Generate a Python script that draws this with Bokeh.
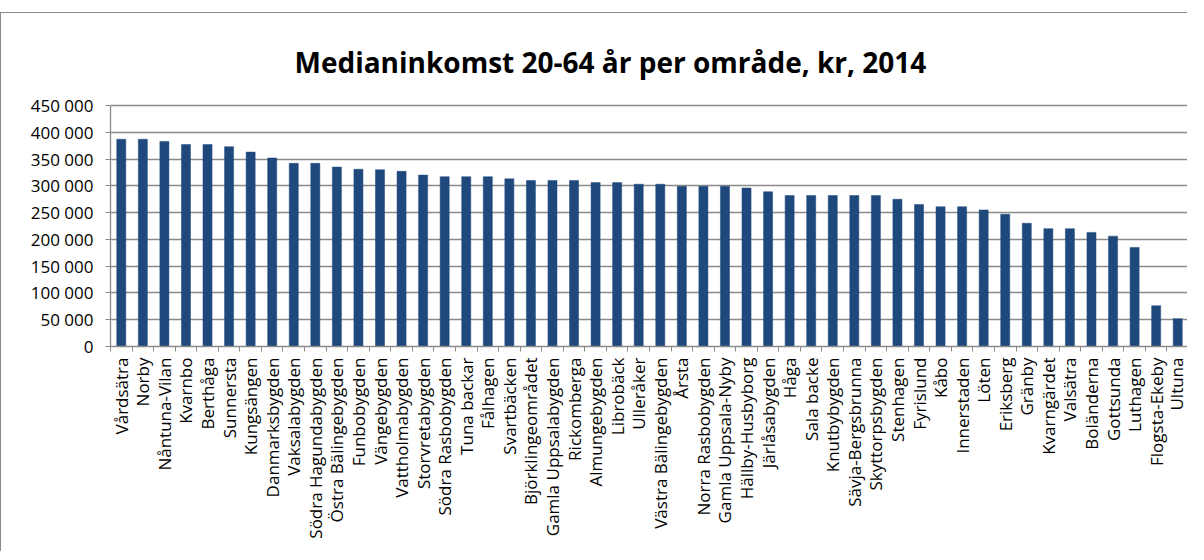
import math
from bokeh.plotting import figure
from bokeh.models import FixedTicker, Range1d, Label
from bokeh.embed import file_html
from bokeh.resources import INLINE

areas = ["Vårdsätra", "Norby", "Nåntuna-Vilan", "Kvarnbo", "Berthåga", "Sunnersta",
         "Kungsängen", "Danmarksbygden", "Vaksalabygden", "Södra Hagundabygden",
         "Östra Bälingebygden", "Funbobygden", "Vängebygden", "Vattholmabygden",
         "Storvretabygden", "Södra Rasbobygden", "Tuna backar", "Fålhagen", "Svartbäcken",
         "Björklingeområdet", "Gamla Uppsalabygden", "Rickomberga", "Almungebygden",
         "Librobäck", "Ulleråker", "Västra Bälingebygden", "Årsta", "Norra Rasbobygden",
         "Gamla Uppsala-Nyby", "Hällby-Husbyborg", "Järlåsabygden", "Håga", "Sala backe",
         "Knutbybygden", "Sävja-Bergsbrunna", "Skyttorpsbygden", "Stenhagen", "Fyrislund",
         "Kåbo", "Innerstaden", "Löten", "Eriksberg", "Gränby", "Kvarngärdet", "Valsätra",
         "Boländerna", "Gottsunda", "Luthagen", "Flogsta-Ekeby", "Ultuna"]

income = [387000, 387000, 383000, 377000, 377000, 373000, 363000, 352000, 342000, 342000,
          335000, 331000, 330000, 327000, 320000, 317000, 317000, 317000, 313000, 310000,
          310000, 310000, 306000, 306000, 303000, 303000, 299000, 299000, 299000, 296000,
          289000, 282000, 282000, 282000, 282000, 282000, 275000, 265000, 261000, 261000,
          255000, 247000, 230000, 220000, 220000, 213000, 206000, 185000, 76000, 52000]

y_ticks = [0, 50000, 100000, 150000, 200000, 250000, 300000, 350000, 400000, 450000]
y_tick_labels = ["0", "50 000", "100 000", "150 000", "200 000", "250 000",
                 "300 000", "350 000", "400 000", "450 000"]

title_text = "Medianinkomst 20-64 år per område, kr, 2014"

GREY = "#8a8a8a"
FONT = "Open Sans"

# layout (pixels)
W, H = 1187, 539
BORDER_BOTTOM = 206
PLOT_H = 241            # height of the value area (0 .. 450 000)
FRAME_H = H - BORDER_BOTTOM
y_max = y_ticks[-1]
y_end = y_max * FRAME_H / PLOT_H   # frame extends above the value area to hold the title

n = len(areas)
xs = list(range(1, n + 1))

p = figure(width=W, height=H, output_backend="svg", toolbar_location=None,
           x_range=Range1d(0.5, n + 0.5), y_range=Range1d(0, y_end),
           min_border_left=109, min_border_right=0, min_border_top=0,
           min_border_bottom=BORDER_BOTTOM)
p.styles = {"border-left": "1px solid " + GREY, "border-top": "1px solid " + GREY,
            "margin-top": "12px"}

p.vbar(x=xs, top=income, width=0.42, fill_color="#1F497D", line_color="#1F497D",
       line_width=0.5)

p.title.visible = False

# chart title, positioned in screen units relative to the plot frame
title = Label(x=184, y=285, x_units="screen", y_units="screen", text=title_text,
              text_font=FONT, text_font_style="bold", text_font_size="28px",
              text_color="#000000", text_baseline="alphabetic", text_align="left")
p.add_layout(title)

p.outline_line_color = None
p.background_fill_color = "white"
p.border_fill_color = "white"
p.xgrid.visible = False
p.ygrid.grid_line_color = GREY
p.ygrid.grid_line_width = 1.3

xa = p.xaxis[0]
xa.ticker = FixedTicker(ticks=xs, minor_ticks=[i + 0.5 for i in range(0, n + 1)])
xa.major_label_overrides = {x: a for x, a in zip(xs, areas)}
xa.major_label_orientation = math.pi / 2
xa.major_tick_out = 0
xa.major_tick_in = 0
xa.minor_tick_out = 5
xa.minor_tick_in = 0
xa.minor_tick_line_color = GREY
xa.axis_line_color = GREY
xa.axis_line_width = 1.3
xa.major_label_text_font = FONT
xa.major_label_text_font_size = "17px"
xa.major_label_text_color = "#000000"
xa.major_label_standoff = 6

ya = p.yaxis[0]
ya.ticker = FixedTicker(ticks=y_ticks, minor_ticks=[])
ya.bounds = (0, y_max)
ya.major_label_overrides = {t: l for t, l in zip(y_ticks, y_tick_labels)}
ya.major_tick_out = 5
ya.major_tick_in = 0
ya.major_tick_line_color = GREY
ya.minor_tick_line_color = None
ya.axis_line_color = GREY
ya.axis_line_width = 1.3
ya.major_label_text_font = FONT
ya.major_label_text_font_size = "17px"
ya.major_label_text_color = "#000000"
ya.major_label_standoff = 12

open("out.html", "w").write(file_html(p, INLINE))
